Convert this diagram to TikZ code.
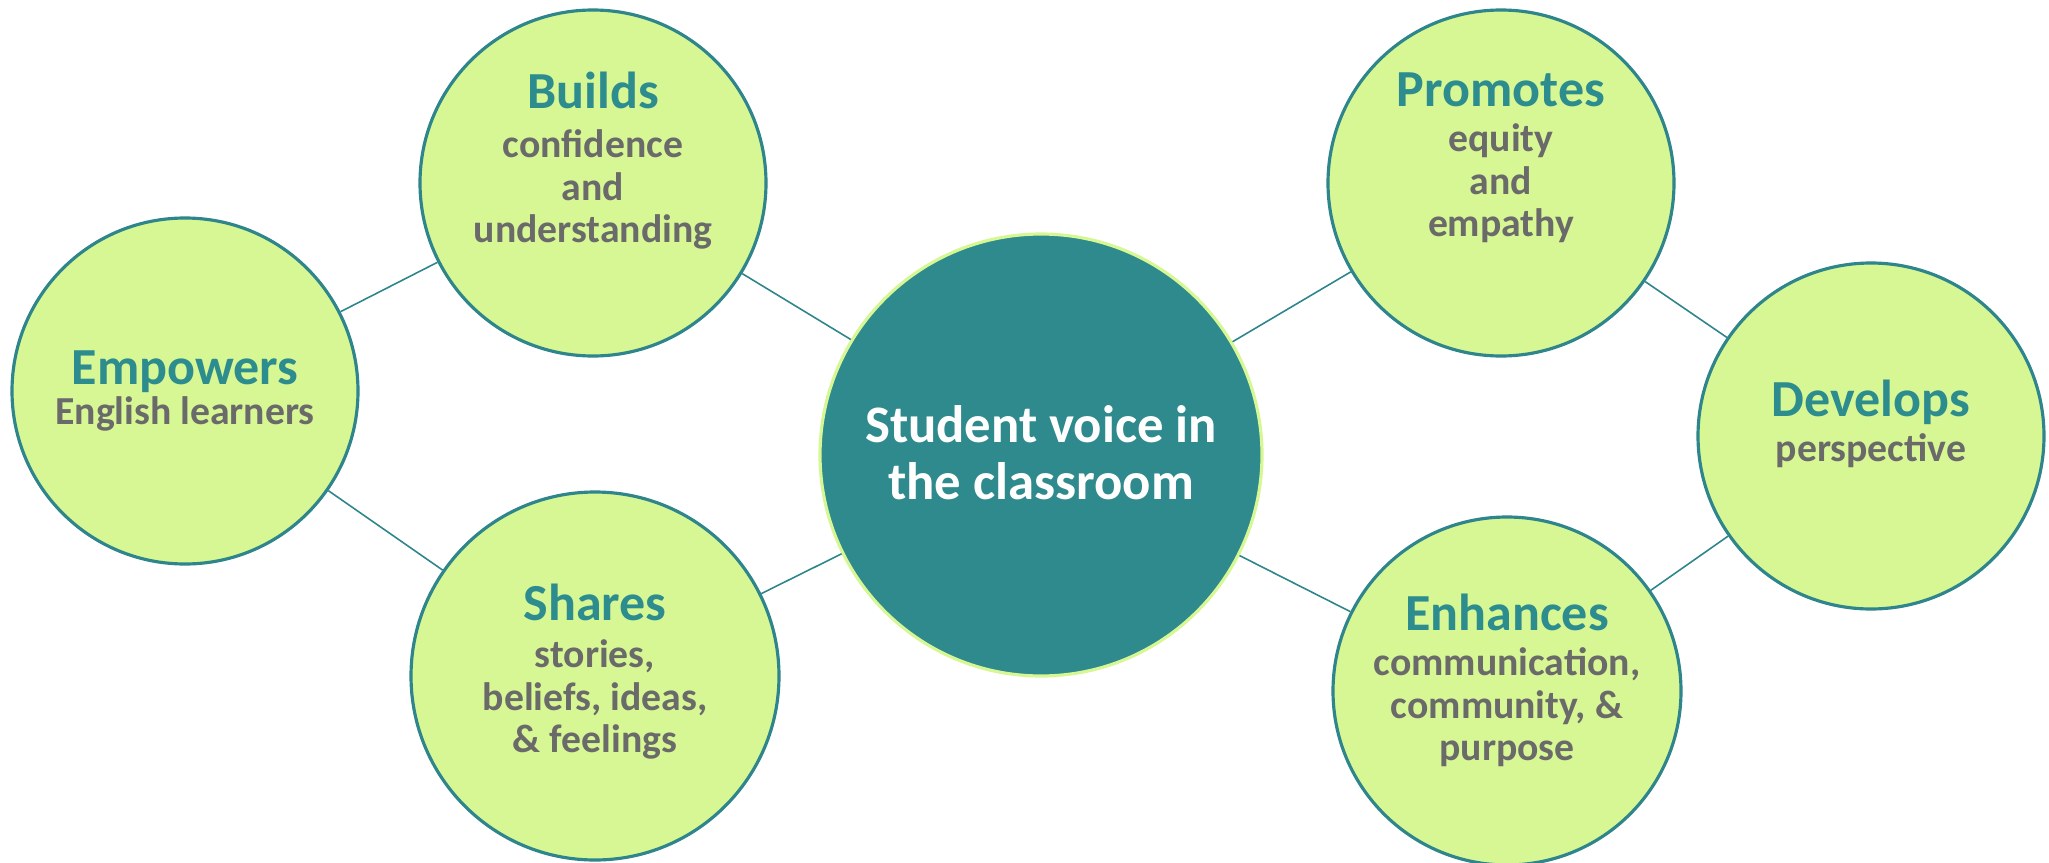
\documentclass[tikz,border=0pt]{standalone}
\usepackage{fontspec}
\setmainfont{Carlito}
\definecolor{bubfill}{HTML}{D7F794}
\definecolor{bubline}{HTML}{2E858B}
\definecolor{voice}{HTML}{2E8A8C}
\definecolor{headteal}{HTML}{2C8C8E}
\definecolor{subgrey}{HTML}{6A6A6A}
\newcommand{\bubhead}[2][0.7pt]{{\fontsize{14.8}{16}\selectfont\color{headteal}#2}\\[#1]}

\begin{document}
\begin{tikzpicture}[
    bubble/.style={draw=bubline,fill=bubfill,circle,line width=0.9pt,minimum size=3.46cm,inner sep=0pt},
    bubtext/.style={align=center,text=subgrey,font=\bfseries\fontsize{11.3}{12.1}\selectfont},
    link/.style={draw=bubline,line width=0.45pt}
  ]
  \useasboundingbox (0,0) rectangle (20.49,8.62);
  % the hub
  \node[circle,draw=bubfill,fill=voice,line width=0.9pt,minimum size=4.42cm] (voice) at (10.41,4.07){};
  \node[align=center,text=white,font=\bfseries\fontsize{15}{16.2}\selectfont] (voice-t) at ([yshift=0.25mm]voice){Student voice in\\the classroom};
  % the six bubbles
  \node[bubble] (empowers) at (1.85,4.71){};
  \node[bubble] (builds) at (5.93,6.79){};
  \node[bubble,minimum size=3.68cm] (shares) at (5.95,1.86){};
  \node[bubble] (promotes) at (15.01,6.79){};
  \node[bubble] (develops) at (18.71,4.26){};
  \node[bubble,minimum size=3.48cm] (enhances) at (15.07,1.71){};
  \node[bubtext] (empowers-t) at (empowers){\bubhead[-0.7pt]{Empowers}English learners};
  \node[bubtext] (builds-t) at ([yshift=2.2mm]builds){\bubhead[1.8pt]{Builds}confidence\\and\\understanding};
  \node[bubtext] (shares-t) at ([yshift=0.4mm]shares){\bubhead[1.3pt]{Shares}stories,\\beliefs, ideas,\\\& feelings};
  \node[bubtext] (promotes-t) at ([yshift=2.5mm]promotes){\bubhead{Promotes}equity\\and\\empathy};
  \node[bubtext] (develops-t) at ([yshift=1.25mm]develops){\bubhead{Develops}perspective};
  \node[bubtext] (enhances-t) at ([yshift=1.05mm]enhances){\bubhead{Enhances}communication,\\community, \&\\purpose};
  % links
  \draw[link] (empowers) -- (builds);
  \draw[link] (empowers) -- (shares);
  \draw[link] (builds) -- (voice);
  \draw[link] (shares) -- (voice);
  \draw[link] (voice) -- (promotes);
  \draw[link] (voice) -- (enhances);
  \draw[link] (promotes) -- (develops);
  \draw[link] (develops) -- (enhances);
\end{tikzpicture}
\end{document}
